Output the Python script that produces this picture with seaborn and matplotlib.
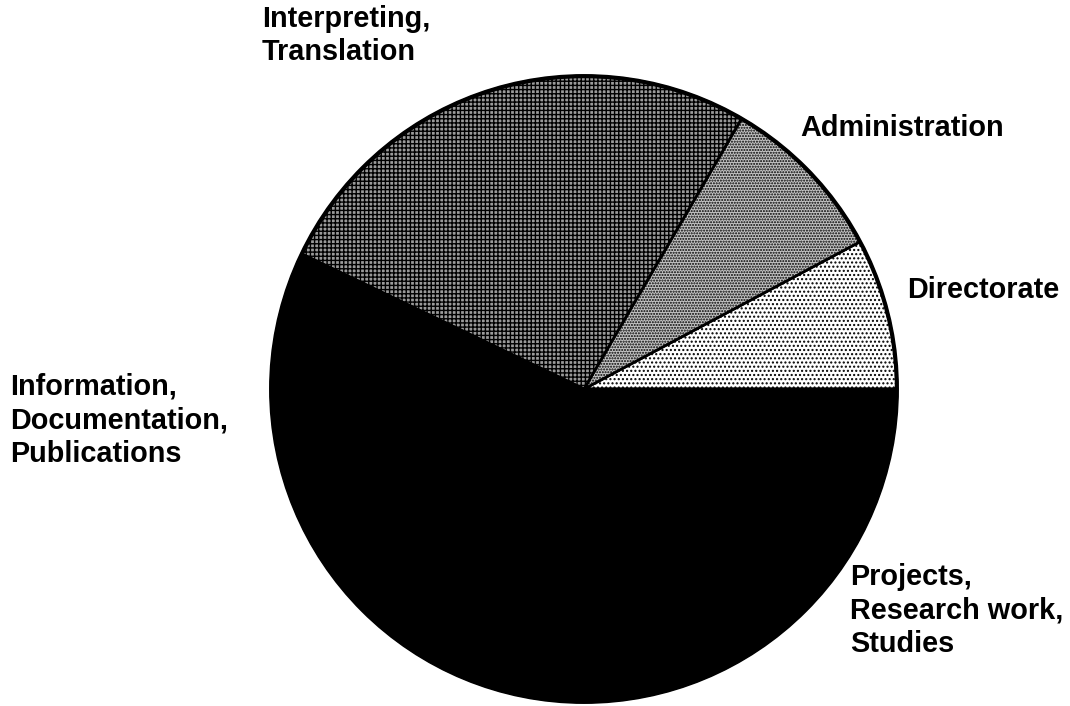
import matplotlib
matplotlib.use("Agg")
import matplotlib.pyplot as plt
import seaborn as sns

# Data (shares in percent)
categories = ["Directorate", "Administration", "Interpreting, Translation",
              "Information, Documentation, Publications",
              "Projects, Research work, Studies"]
shares = [7.8, 8.8, 26.3, 30.0, 27.1]
label_texts = ["Directorate", "Administration", "Interpreting,\nTranslation",
               "Information,\nDocumentation,\nPublications",
               "Projects,\nResearch work,\nStudies"]

sns.set_theme(style="white")
plt.rcParams['font.family'] = ['Liberation Sans', 'DejaVu Sans']
plt.rcParams['hatch.linewidth'] = 1.0

W, H = 1070, 706
fig = plt.figure(figsize=(W / 100, H / 100), dpi=100)
cx, cy, r = 584, 389, 316
ax = fig.add_axes([(cx - r) / W, (H - cy - r) / H, 2 * r / W, 2 * r / H])

faces = ["white", "#c4c4c4", "#9a9a9a", "black", "black"]
hatches = ["....", "......", "++++", None, None]
wedges, _ = ax.pie(shares, startangle=0, counterclock=True, colors=faces,
                   radius=1.0,
                   wedgeprops=dict(edgecolor="black", linewidth=2))
for w, h in zip(wedges, hatches):
    if h:
        w.set_hatch(h)

ax.add_patch(plt.Circle((0, 0), 1.0, fill=False, edgecolor="black", linewidth=3))
ax.set_xlim(-1.01, 1.01)
ax.set_ylim(-1.01, 1.01)
ax.set_aspect("equal")
ax.axis("off")

# label positions in pixels (left, top)
label_pos = [(907, 276), (800, 114), (262, 5), (10, 373), (850, 563)]
for txt, (x, y) in zip(label_texts, label_pos):
    fig.text(x / W, 1 - y / H, txt, ha="left", va="top", fontsize=20.8,
             fontweight="bold", color="black", linespacing=1.25)

fig.savefig("out.png", dpi=100, facecolor="white")
